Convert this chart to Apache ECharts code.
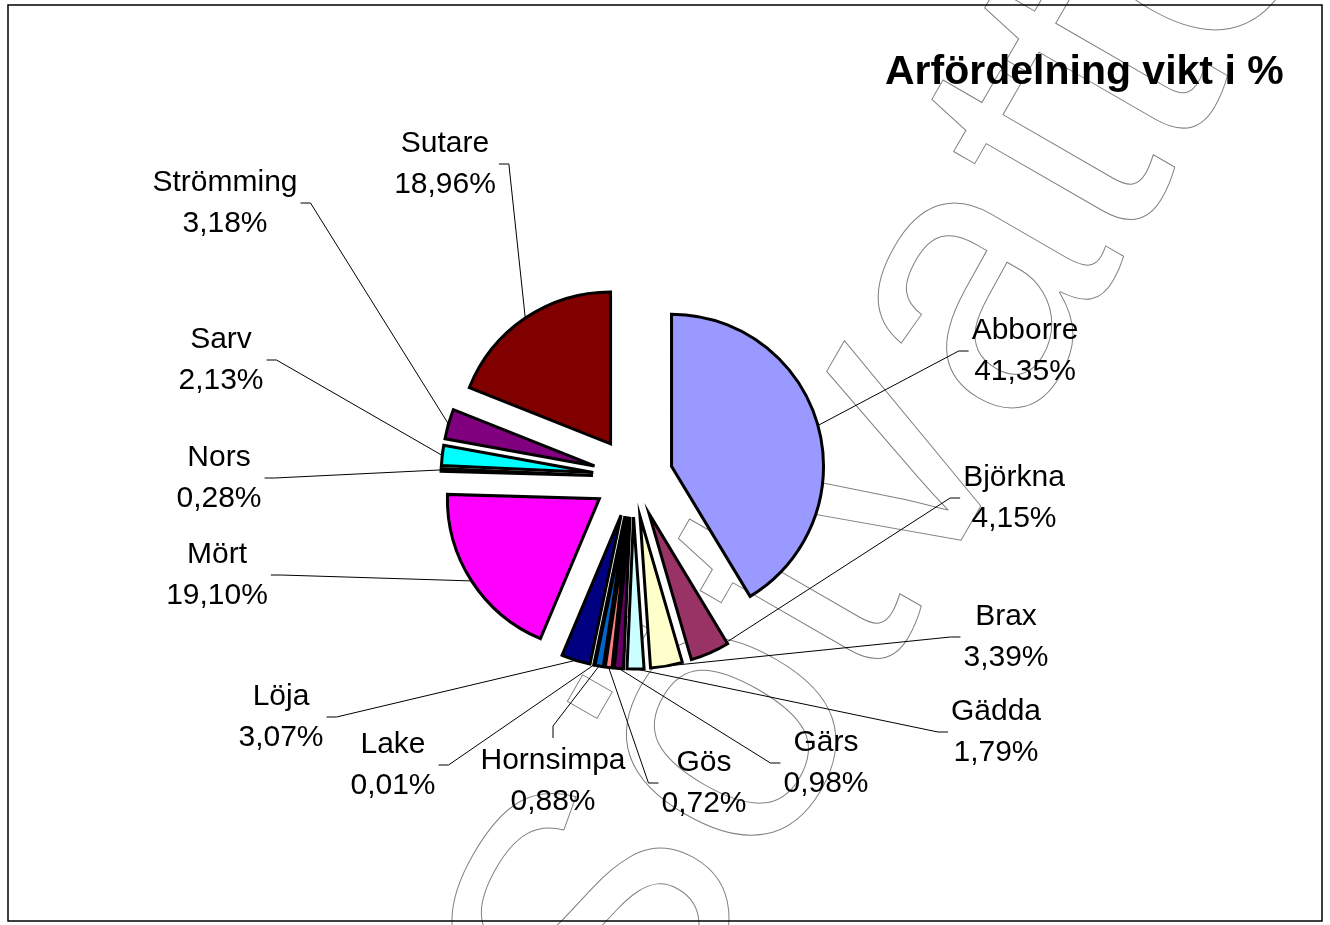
<!DOCTYPE html>
<html>
<head>
<meta charset="utf-8">
<title>Arfördelning vikt i %</title>
<script src="https://cdn.jsdelivr.net/npm/echarts@6/dist/echarts.min.js"></script>
<style>
  html, body { margin: 0; padding: 0; background: #fff; }
  #chart { width: 1330px; height: 925px; }
</style>
</head>
<body>
<div id="chart"></div>
<script>
// arter, medurs från kl 12 (alfabetisk ordning som i Excel)
const arter = ["Abborre", "Björkna", "Brax", "Gädda", "Gärs", "Gös", "Hornsimpa",
  "Lake", "Löja", "Mört", "Nors", "Sarv", "Strömming", "Sutare"];
// viktandel i %
const andel = [41.35, 4.15, 3.39, 1.79, 0.98, 0.72, 0.88, 0.01, 3.07, 19.10, 0.28, 2.13, 3.18, 18.96];
// Excel-paletten
const farger = ["#9999FF", "#993366", "#FFFFCC", "#CCFFFF", "#660066", "#FF8080", "#0066CC",
  "#CCCCFF", "#000080", "#FF00FF", "#FFFF00", "#00FFFF", "#800080", "#800000"];
// etikettens mittpunkt (px), bara layout
const etikettPos = [[1025, 351], [1014, 498], [1006, 637], [996, 732], [826, 763], [704, 783], [553, 781],
  [393, 765], [281, 717], [217, 575], [219, 478], [221, 360], [225, 203], [445, 164]];

const explode = 40;
const total = andel.reduce((a, b) => a + b, 0);
// mittvinkel per tårtbit (echarts: start kl 12, medurs)
const mitt = [];
let acc = 0;
andel.forEach(v => {
  mitt.push(-Math.PI / 2 + 2 * Math.PI * (acc + v / 2) / total);
  acc += v;
});

const pieBase = {
  type: "pie",
  center: [633, 477],
  radius: 152,
  startAngle: 90,
  clockwise: true,
  avoidLabelOverlap: false,
  emphasis: { disabled: true }
};

let chart = echarts.init(document.getElementById("chart"));
let option = {
  animation: false,
  color: farger,
  title: {
    text: "Arfördelning vikt i %",
    left: 885,
    top: 52,
    padding: 0,
    textStyle: {
      fontFamily: "Liberation Sans",
      fontWeight: "bold",
      fontSize: 41,
      lineHeight: 41,
      color: "#000"
    }
  },
  graphic: [
    {
      // vattenstämpel
      type: "text",
      x: 548,
      y: 1046,
      rotation: Math.PI / 3,
      z: 0,
      silent: true,
      style: {
        text: "Sötvatten",
        font: '380px "Liberation Sans"',
        fill: "rgba(0,0,0,0)",
        stroke: "#808080",
        lineWidth: 1,
        align: "left",
        verticalAlign: "middle"
      }
    },
    {
      type: "rect",
      z: 100,
      silent: true,
      shape: { x: 8, y: 5, width: 1314, height: 916 },
      style: { fill: "none", stroke: "#000", lineWidth: 1.5 }
    }
  ],
  series: [
    // utskjutna tårtbitar
    Object.assign({}, pieBase, {
      z: 5,
      selectedMode: "multiple",
      selectedOffset: explode,
      data: arter.map((n, i) => ({ name: n, value: andel[i], selected: true })),
      itemStyle: { borderColor: "#000", borderWidth: 3, borderJoin: "miter" },
      select: { itemStyle: { borderColor: "#000", borderWidth: 3 } },
      label: { show: false },
      labelLine: { show: false }
    }),
    // osynlig kopia som bär etiketter och hänvisningslinjer
    Object.assign({}, pieBase, {
      z: 4,
      silent: true,
      selectedMode: false,
      data: arter.map((n, i) => ({ name: n, value: andel[i] })),
      itemStyle: { color: "rgba(0,0,0,0)", borderWidth: 0 },
      label: {
        show: true,
        position: "outside",
        formatter: p => p.name + "\n" + p.value.toFixed(2).replace(".", ",") + "%",
        color: "#000",
        fontFamily: "Liberation Sans",
        fontSize: 30,
        lineHeight: 41,
        align: "center"
      },
      labelLine: {
        show: true,
        length: 10,
        length2: 10,
        lineStyle: { color: "#000", width: 1 }
      },
      labelLayout: function (p) {
        let i = p.dataIndex;
        let lx = etikettPos[i][0], ly = etikettPos[i][1];
        let w = p.labelRect.width, h = p.labelRect.height;
        let ox = Math.cos(mitt[i]) * explode, oy = Math.sin(mitt[i]) * explode;
        let res = { x: lx, y: ly, align: "center", verticalAlign: "middle" };
        if (!p.labelLinePoints) return res;
        let p0 = [p.labelLinePoints[0][0] + ox, p.labelLinePoints[0][1] + oy];
        let a, b;
        if (Math.abs(lx - p0[0]) < w / 2) {
          b = [lx, ly - h / 2 - 2];
          a = [lx, b[1] - 12];
        } else if (lx > p0[0]) {
          b = [lx - w / 2 - 3, ly];
          a = [b[0] - 10, ly];
        } else {
          b = [lx + w / 2 + 3, ly];
          a = [b[0] + 10, ly];
        }
        res.labelLinePoints = [p0, a, b];
        return res;
      }
    })
  ]
};
chart.setOption(option);
window.addEventListener("resize", function () {
  chart.resize();
});
</script>
</body>
</html>
